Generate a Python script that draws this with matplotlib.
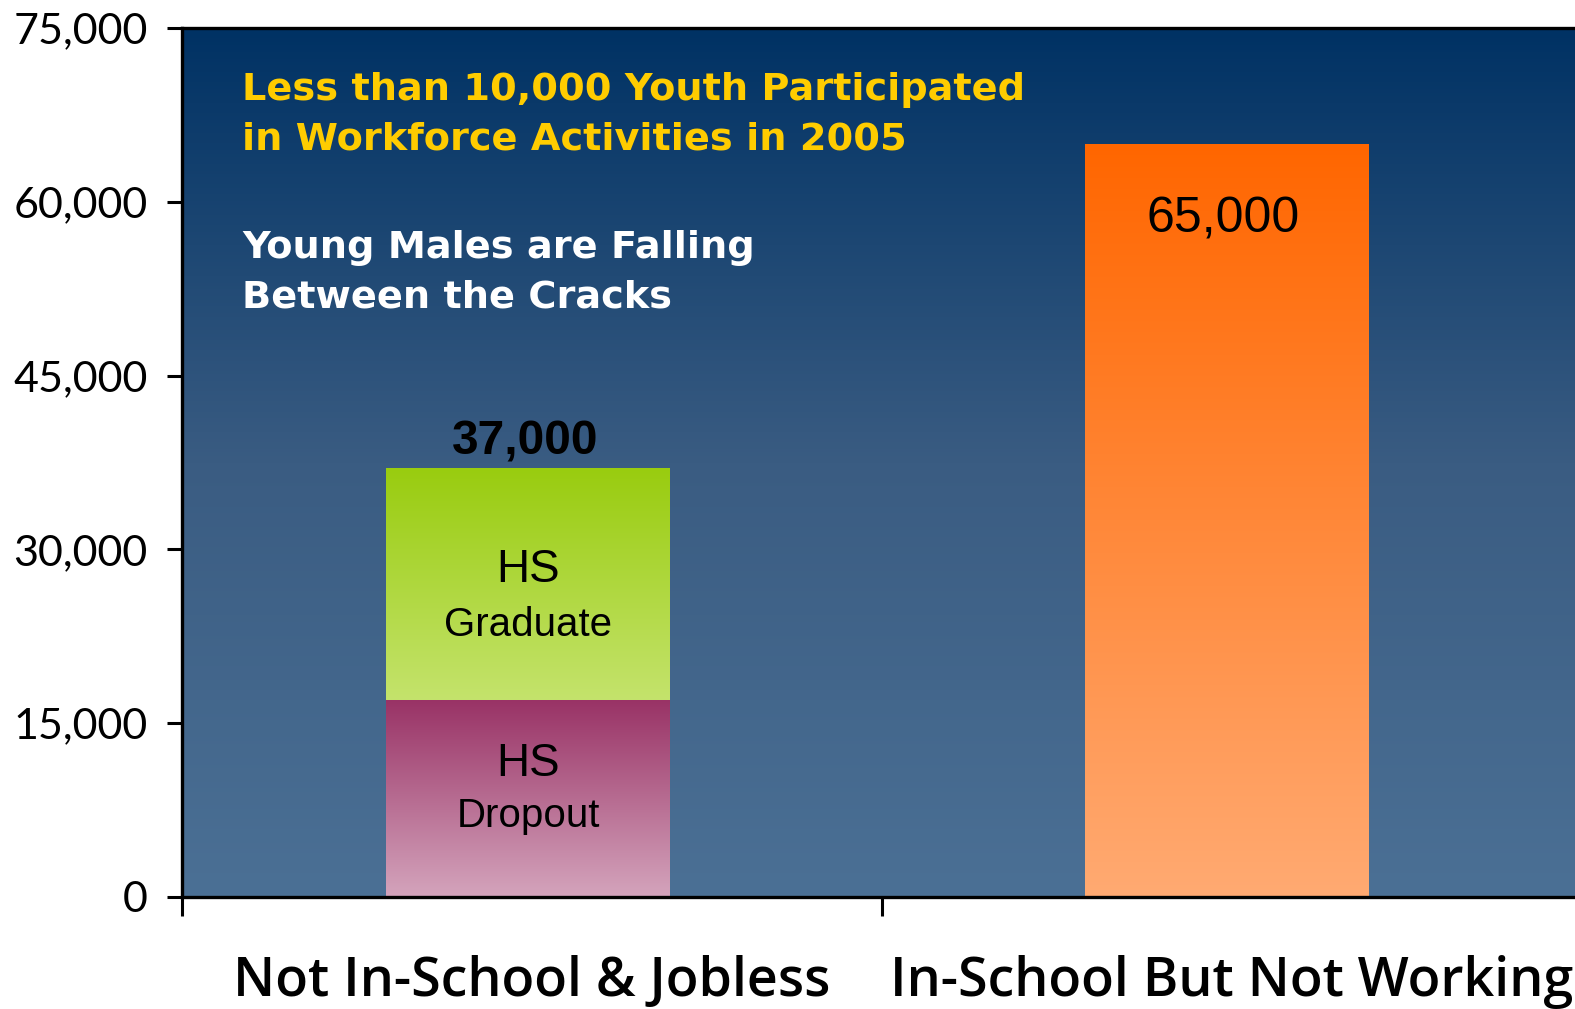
import matplotlib
matplotlib.use("Agg")
import matplotlib.pyplot as plt
import numpy as np
from matplotlib.colors import LinearSegmentedColormap
from matplotlib.ticker import FuncFormatter

# ---- data ----
categories = ["Not In-School & Jobless", "In-School But Not Working"]
hs_dropout = [17000, 0]
hs_graduate = [20000, 0]
in_school = [0, 65000]
total_labels = ["37,000", "65,000"]
y_ticks = [0, 15000, 30000, 45000, 60000, 75000]
title_lines = ["Less than 10,000 Youth Participated", "in Workforce Activities in 2005"]
subtitle_lines = ["Young Males are Falling", "Between the Cracks"]

W, H = 1575, 1009
fig = plt.figure(figsize=(W / 100, H / 100), dpi=100)
ax_l, ax_r, ax_b, ax_t = 181.7, 1582.0, 897.0, 28.0
ax = fig.add_axes([ax_l / W, (H - ax_b) / H, (ax_r - ax_l) / W, (ax_b - ax_t) / H])

ax.set_xlim(0, 2)
ax.set_ylim(0, 75000)

# background gradient
bg = LinearSegmentedColormap.from_list("bg", ["#4b7095", "#3a5c82", "#003264"])
grad = np.linspace(0, 1, 256).reshape(-1, 1)
ax.imshow(grad, cmap=bg, origin="lower", extent=[0, 1, 0, 1], transform=ax.transAxes,
          aspect="auto", zorder=0)


def grad_bar(x, bottom, height, top_col, bot_col):
    bars = ax.bar(x, height, bottom=bottom, width=0.405, color="none", edgecolor="none", zorder=2)
    b = bars[0]
    cm = LinearSegmentedColormap.from_list("c", [bot_col, top_col])
    im = ax.imshow(grad, cmap=cm, origin="lower",
                   extent=[b.get_x(), b.get_x() + b.get_width(), bottom, bottom + height],
                   aspect="auto", zorder=2)
    im.set_clip_path(b)
    return b


xpos = [0.495, 1.493]
grad_bar(xpos[0], 0, hs_dropout[0], "#993366", "#d4a4bc")
grad_bar(xpos[0], hs_dropout[0], hs_graduate[0], "#99cc0f", "#c4e36c")
grad_bar(xpos[1], 0, in_school[1], "#ff6600", "#ffaa72")
ax.set_xlim(0, 2)
ax.set_ylim(0, 75000)

# spines
for s in ["left", "top", "bottom"]:
    ax.spines[s].set_linewidth(2.4)
    ax.spines[s].set_color("black")
ax.spines["right"].set_visible(False)

ax.set_yticks(y_ticks)
ax.yaxis.set_major_formatter(FuncFormatter(lambda v, p: f"{int(v):,}"))
ax.tick_params(axis="y", length=10.5, width=2.2, pad=14, labelsize=31, labelcolor="black")
for lab in ax.get_yticklabels():
    lab.set_fontfamily("Lato")
    lab.set_fontweight("normal")

ax.set_xticks([0, 1, 2])
ax.set_xticklabels(["", "", ""])
ax.tick_params(axis="x", which="major", length=14, width=2.2)
ax.set_xticks([0.5, 1.5], minor=True)
ax.set_xticklabels(categories, minor=True, fontsize=38.8, fontweight="semibold",
                   fontfamily="Open Sans")
ax.tick_params(axis="x", which="minor", length=0, pad=42)
ax.set_axisbelow(False)

# bar labels
ax.text(xpos[0] - 0.004, 38150, total_labels[0], ha="center", va="baseline",
        fontsize=34.5, fontweight="bold", fontfamily="Liberation Sans", color="black", zorder=5)
ax.text(xpos[1] - 0.006, 58500, total_labels[1], ha="center", va="center",
        fontsize=36, fontfamily="Liberation Sans", color="black", zorder=5)
ax.text(xpos[0], 28180, "HS", ha="center", va="center", fontsize=33,
        fontfamily="Liberation Sans", zorder=5)
ax.text(xpos[0], 23450, "Graduate", ha="center", va="center", fontsize=29,
        fontfamily="Liberation Sans", zorder=5)
ax.text(xpos[0], 11450, "HS", ha="center", va="center", fontsize=33,
        fontfamily="Liberation Sans", zorder=5)
ax.text(xpos[0], 7000, "Dropout", ha="center", va="center", fontsize=29,
        fontfamily="Liberation Sans", zorder=5)

# titles (baselines in figure pixels)
for line, yb in zip(title_lines, [100, 150]):
    fig.text(242 / W, 1 - yb / H, line, ha="left", va="baseline", fontsize=27.5,
             fontweight="bold", fontfamily="DejaVu Sans", color="#ffcc00", zorder=5)
for line, yb in zip(subtitle_lines, [258, 308]):
    fig.text(242 / W, 1 - yb / H, line, ha="left", va="baseline", fontsize=27.5,
             fontweight="bold", fontfamily="DejaVu Sans", color="white", zorder=5)

fig.savefig("out.png", dpi=100)
